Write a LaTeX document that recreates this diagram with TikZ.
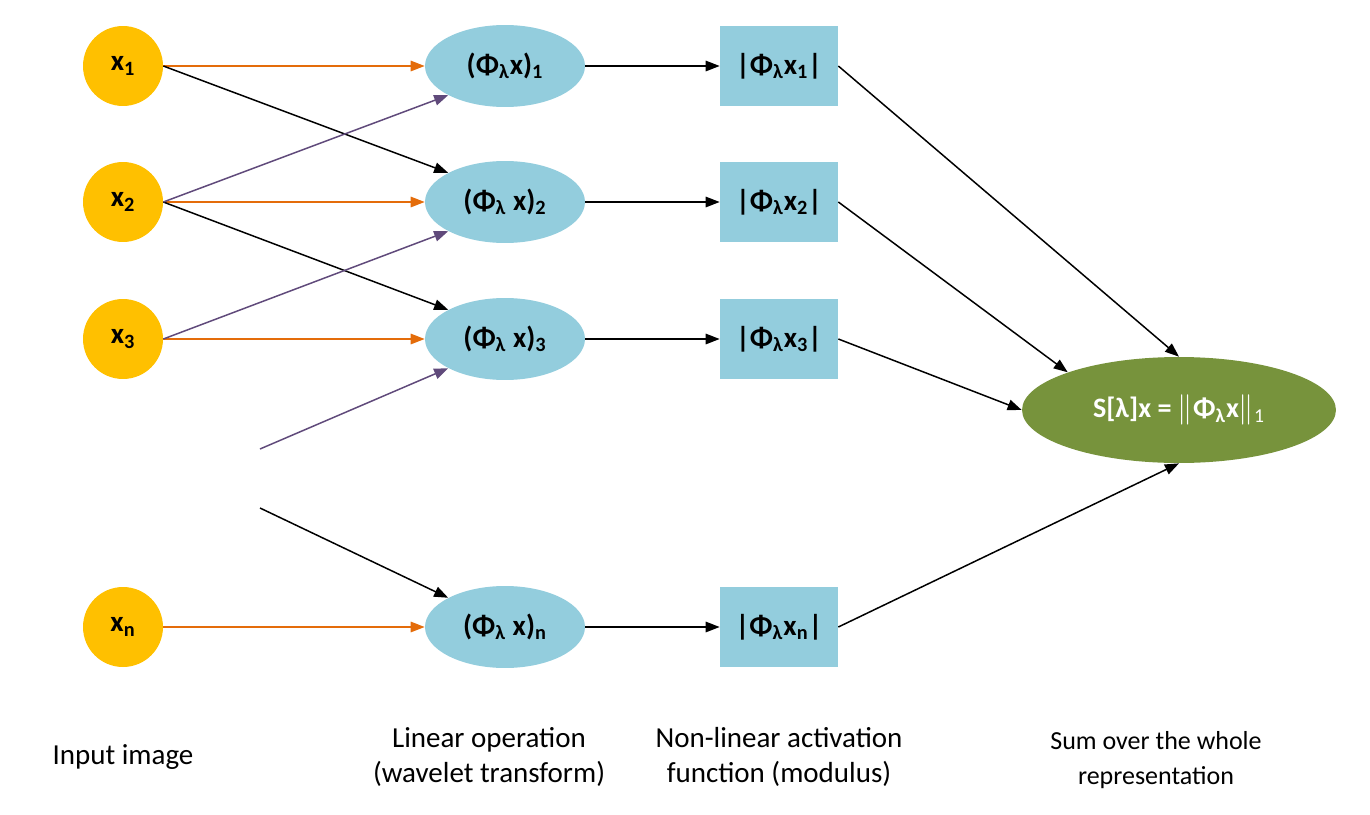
\documentclass[tikz,border=0pt]{standalone}
\usepackage{fontspec}
\setmainfont{Carlito}
\usepackage{xcolor}
\usepackage{tikz}
\usetikzlibrary{shapes, arrows.meta, positioning}
\definecolor{gold}{HTML}{FFC000}
\definecolor{lightblue}{HTML}{93CDDD}
\definecolor{olive}{HTML}{77933C}
\definecolor{orangeline}{HTML}{E46C0A}
\definecolor{purpleline}{HTML}{604A7B}
\newcommand{\phil}{Φ\textsubscript{λ}}

\begin{document}
\begin{tikzpicture}[x=0.02cm, y=-0.02cm,
  font=\fontsize{16.5}{20}\selectfont,
  input/.style={shape=circle, fill=gold, minimum size=1.6cm, inner sep=0pt, font=\fontsize{16.5}{19}\selectfont\bfseries},
  lin/.style={shape=ellipse, fill=lightblue, minimum width=3.2cm, minimum height=1.64cm, inner sep=0pt, font=\fontsize{16.5}{19}\selectfont\bfseries},
  act/.style={shape=rectangle, fill=lightblue, minimum width=2.36cm, minimum height=1.62cm, inner sep=0pt, font=\fontsize{16.5}{19}\selectfont\bfseries},
  sum/.style={shape=ellipse, fill=olive, text=white, minimum width=6.28cm, minimum height=2.12cm, inner sep=0pt, font=\fontsize{16}{19}\selectfont\bfseries},
  caption/.style={align=center},
  arr/.style={-{Triangle[length=8pt, width=6pt]}, line width=0.85pt},
  orangearr/.style={arr, draw=orangeline, -{Triangle[length=8pt, width=6pt, fill=orangeline]}},
  purplearr/.style={arr, draw=purpleline}]
\useasboundingbox (0,0) rectangle (1370,815);

% inputs
\node[input] (x1) at (123,66) {x\textsubscript{1}};
\node[input] (x2) at (123,202) {x\textsubscript{2}};
\node[input] (x3) at (123,339) {x\textsubscript{3}};
\node[input] (xn) at (123,627) {x\textsubscript{n}};
\coordinate (d1) at (260,449);
\coordinate (d2) at (260,508);

% linear operation
\node[lin] (e1) at (505,66) {(\phil x)\textsubscript{1}};
\node[lin] (e2) at (505,202) {(\phil\ x)\textsubscript{2}};
\node[lin] (e3) at (505,339) {(\phil\ x)\textsubscript{3}};
\node[lin] (en) at (505,627) {(\phil\ x)\textsubscript{n}};

% modulus
\node[act] (r1) at (779,66) {|\phil x\textsubscript{1}|};
\node[act] (r2) at (779,202) {|\phil x\textsubscript{2}|};
\node[act] (r3) at (779,339) {|\phil x\textsubscript{3}|};
\node[act] (rn) at (779,627) {|\phil x\textsubscript{n}|};

% sum
\node[sum] (s) at (1179,410) {S[λ]x = {\mdseries$\Vert$}\phil x{\mdseries$\Vert$\textsubscript{1}}};

% connectors
\draw[orangearr] (x1.east) -- (e1.west);
\draw[orangearr] (x2.east) -- (e2.west);
\draw[orangearr] (x3.east) -- (e3.west);
\draw[orangearr] (xn.east) -- (en.west);
\draw[arr] (x1.east) -- (e2.north west);
\draw[arr] (x2.east) -- (e3.north west);
\draw[arr] (d2) -- (en.north west);
\draw[purplearr] (x2.east) -- (e1.south west);
\draw[purplearr] (x3.east) -- (e2.south west);
\draw[purplearr] (d1) -- (e3.south west);

\foreach \i in {1,2,3,n}
  \draw[arr] (e\i.east) -- (r\i.west);

\draw[arr] (r1.east) -- (s.north);
\draw[arr] (r2.east) -- (s.north west);
\draw[arr] (r3.east) -- (s.west);
\draw[arr] (rn.east) -- (s.south);

% captions
\node[caption] (c1) at (123,757) {Input image};
\node[caption] (c2) at (489,757) {Linear operation\\(wavelet transform)};
\node[caption] (c3) at (779,757) {Non-linear activation\\function (modulus)};
\node[caption, font=\fontsize{14.8}{20}\selectfont] (c4) at (1156,760) {Sum over the whole\\representation};
\end{tikzpicture}
\end{document}
